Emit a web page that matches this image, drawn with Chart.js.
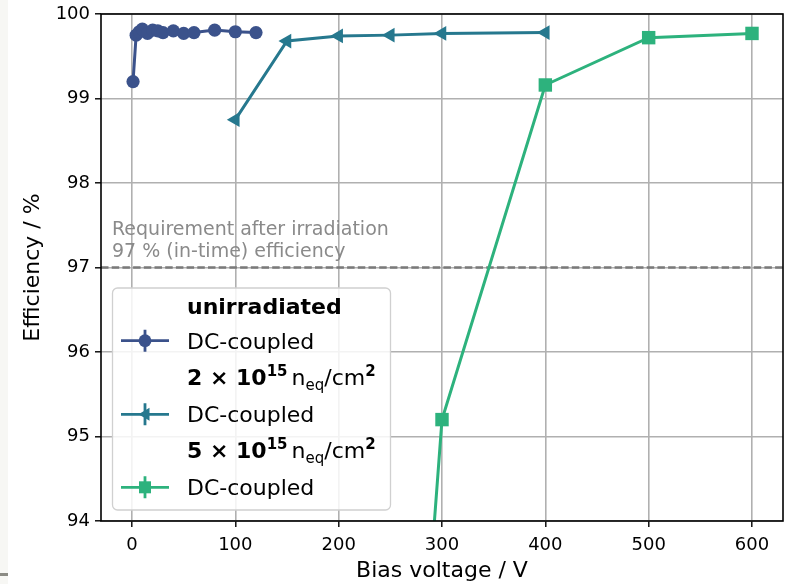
<!DOCTYPE html>
<html>
<head>
<meta charset="utf-8">
<script src="https://cdn.jsdelivr.net/npm/chart.js@4.4.0/dist/chart.umd.min.js"></script>
<style>
  body { margin: 0; background: #fff; }
  #wrap { position: relative; width: 786px; height: 584px; }
  #strip { position: absolute; left: 0; top: 0; width: 8px; height: 584px; background: #f7f7f4; }
  #strip2 { position: absolute; left: 0; top: 573px; width: 8px; height: 3px; background: #8b8b84; }
</style>
</head>
<body>
<div id="wrap">
  <div id="strip"></div><div id="strip2"></div>
  <canvas id="chart" width="786" height="584"></canvas>
</div>
<script>
// data
const unirrVoltage = [1, 4, 7, 10, 15, 20, 25, 30, 40, 50, 60, 80, 100, 120];
const unirrEff = [99.2, 99.75, 99.79, 99.82, 99.77, 99.81, 99.8, 99.78, 99.8, 99.77, 99.78, 99.81, 99.79, 99.78];
const irr2Voltage = [100, 150, 200, 250, 300, 400];
const irr2Eff = [98.75, 99.68, 99.74, 99.75, 99.77, 99.78];
const irr5Voltage = [250, 300, 400, 500, 600];
const irr5Eff = [87.0, 95.2, 99.16, 99.72, 99.77];
const xTicks = [0, 100, 200, 300, 400, 500, 600];
const yTicks = [94, 95, 96, 97, 98, 99, 100];
const requirement = 97;

const colors = ['#3b528b', '#26788e', '#2db27d'];
const FONT = '"DejaVu Sans", sans-serif';

function pts(xs, ys) {
  return xs.map((x, i) => ({ x: x, y: ys[i] }));
}

// frame, requirement line, note and the legend (drawn by hand, like matplotlib)
const extras = {
  id: 'extras',
  beforeDatasetsDraw(chart) {
    const { ctx, chartArea, scales } = chart;
    const y = scales.y.getPixelForValue(requirement);
    ctx.save();
    ctx.strokeStyle = '#7a7a7a';
    ctx.lineWidth = 2.4;
    ctx.setLineDash([7.5, 3.2]);
    ctx.beginPath();
    ctx.moveTo(chartArea.left, y);
    ctx.lineTo(chartArea.right, y);
    ctx.stroke();
    ctx.setLineDash([]);
    ctx.fillStyle = '#8a8a8a';
    ctx.font = '19px ' + FONT;
    ctx.textBaseline = 'middle';
    ctx.fillText('Requirement after irradiation', chartArea.left + 11, y - 37);
    ctx.fillText('97 % (in-time) efficiency', chartArea.left + 11, y - 15.5);
    ctx.restore();
  },
  afterDatasetsDraw(chart) {
    const { ctx, chartArea } = chart;
    ctx.save();
    // frame
    ctx.strokeStyle = '#000';
    ctx.lineWidth = 1.6;
    ctx.strokeRect(chartArea.left, chartArea.top, chartArea.right - chartArea.left, chartArea.bottom - chartArea.top);

    // legend box
    const bx = 112.5, by = 288, bw = 278, bh = 222;
    ctx.beginPath();
    ctx.roundRect(bx, by, bw, bh, 5);
    ctx.fillStyle = 'rgba(255,255,255,0.85)';
    ctx.fill();
    ctx.strokeStyle = '#d0d0d0';
    ctx.lineWidth = 1.3;
    ctx.stroke();

    const tx = 187;
    ctx.textBaseline = 'alphabetic';
    ctx.fillStyle = '#000';
    ctx.font = 'bold 22px ' + FONT;
    ctx.fillText('unirradiated', tx, 314);

    const rowsY = [340.7, 414.3, 487.3];
    const styles = ['circle', 'triangle', 'rect'];
    rowsY.forEach((yy, i) => {
      ctx.strokeStyle = colors[i];
      ctx.fillStyle = colors[i];
      ctx.lineWidth = 2.8;
      ctx.beginPath();
      ctx.moveTo(121, yy); ctx.lineTo(169, yy);
      ctx.moveTo(145, yy - 11); ctx.lineTo(145, yy + 11);
      ctx.stroke();
      ctx.beginPath();
      if (styles[i] === 'circle') {
        ctx.arc(145, yy, 6.4, 0, Math.PI * 2);
      } else if (styles[i] === 'triangle') {
        ctx.moveTo(138.5, yy); ctx.lineTo(149.5, yy - 6.5); ctx.lineTo(149.5, yy + 6.5); ctx.closePath();
      } else {
        ctx.rect(139, yy - 6, 12, 12);
      }
      ctx.fill();
      ctx.fillStyle = '#000';
      ctx.font = '22px ' + FONT;
      ctx.fillText('DC-coupled', tx, yy + 8);
    });

    // fluence headers
    const fluence = (lead, yy) => {
      let x = tx;
      const put = (t, font, dy) => {
        ctx.font = font;
        ctx.fillText(t, x, yy + dy);
        x += ctx.measureText(t).width;
      };
      put(lead + ' \u00d7 10', 'bold 22px ' + FONT, 0);
      put('15', 'bold 15px ' + FONT, -9);
      x += 4;
      put('n', '22px ' + FONT, 0);
      put('eq', '15px ' + FONT, 5);
      put('/cm', '22px ' + FONT, 0);
      put('2', 'bold 15px ' + FONT, -9);
    };
    ctx.fillStyle = '#000';
    fluence('2', 384.5);
    fluence('5', 458);
    ctx.restore();
  }
};

const noPad = (s) => { s.paddingLeft = 0; s.paddingRight = 0; s.paddingTop = 0; s.paddingBottom = 0; };

const ctx = document.getElementById('chart').getContext('2d');
new Chart(ctx, {
  type: 'scatter',
  data: {
    datasets: [
      {
        label: 'unirradiated DC-coupled',
        data: pts(unirrVoltage, unirrEff),
        showLine: true,
        borderColor: colors[0],
        backgroundColor: colors[0],
        borderWidth: 3,
        pointStyle: 'circle',
        pointRadius: 6.6,
        pointBorderWidth: 0,
        order: 3
      },
      {
        label: '2e15 DC-coupled',
        data: pts(irr2Voltage, irr2Eff),
        showLine: true,
        borderColor: colors[1],
        backgroundColor: colors[1],
        borderWidth: 3,
        pointStyle: 'triangle',
        pointRotation: -90,
        pointRadius: 8.5,
        pointBorderWidth: 0,
        order: 2
      },
      {
        label: '5e15 DC-coupled',
        data: pts(irr5Voltage, irr5Eff),
        showLine: true,
        borderColor: colors[2],
        backgroundColor: colors[2],
        borderWidth: 3,
        pointStyle: 'rect',
        pointRadius: 9.5,
        pointBorderWidth: 0,
        order: 1
      }
    ]
  },
  options: {
    responsive: false,
    animation: false,
    layout: { autoPadding: false, padding: { top: 14, right: 3, left: 0, bottom: 0 } },
    plugins: { legend: { display: false }, tooltip: { enabled: false } },
    scales: {
      x: {
        type: 'linear',
        min: -30,
        max: 630,
        afterBuildTicks: (s) => { s.ticks = xTicks.map(v => ({ value: v })); },
        afterFit: (s) => { s.height = 63; noPad(s); },
        grid: { color: '#b0b0b0', lineWidth: 1.6, tickColor: '#000', tickLength: 6, tickWidth: 1.4 },
        border: { display: false },
        ticks: { color: '#000', font: { family: FONT, size: 18 }, padding: 8, maxRotation: 0 },
        title: { display: true, text: 'Bias voltage / V', color: '#000', font: { family: FONT, size: 22 }, padding: { top: 0, bottom: 0 } }
      },
      y: {
        min: 94,
        max: 100,
        afterBuildTicks: (s) => { s.ticks = yTicks.map(v => ({ value: v })); },
        afterFit: (s) => { s.width = 101; noPad(s); },
        grid: { color: '#b0b0b0', lineWidth: 1.6, tickColor: '#000', tickLength: 6, tickWidth: 1.4 },
        border: { display: false },
        ticks: { color: '#000', font: { family: FONT, size: 18 }, padding: 5 },
        title: { display: true, text: 'Efficiency / %', color: '#000', font: { family: FONT, size: 22 }, padding: { top: 20, bottom: 0 } }
      }
    }
  },
  plugins: [extras]
});
</script>
</body>
</html>
